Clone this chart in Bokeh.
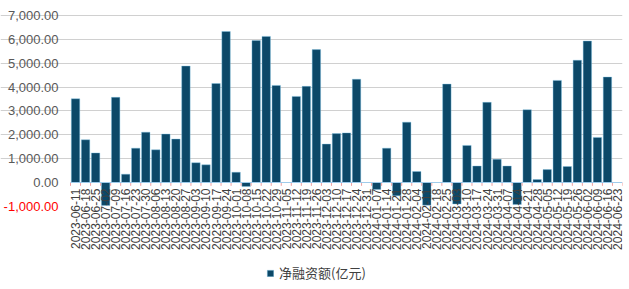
import pandas as pd
import math
from bokeh.plotting import figure
from bokeh.models import (ColumnDataSource, Range1d, FixedTicker,
                          Legend, LegendItem)
from bokeh.core.properties import value
from bokeh.embed import file_html
from bokeh.resources import INLINE

# ---- data ----
dates = [d.strftime("%Y-%m-%d") for d in pd.date_range("2023-06-11", "2024-06-23", freq="7D")]
net_financing = [
    3510, 1790, 1240, -960, 3570, 350, 1440, 2110, 1370, 2030,
    1820, 4880, 830, 740, 4150, 6330, 430, -170, 5950, 6125,
    4070, None, 3610, 4030, 5570, 1610, 2050, 2080, 4330, None,
    -290, 1440, -560, 2530, 460, -950, None, 4125, -900, 1555,
    690, 3360, 970, 690, -920, 3050, 125, 540, 4280, 670,
    5125, 5930, 1890, 4420, None,
]
series_name = "净融资额(亿元)"
y_ticks = [-1000, 0, 1000, 2000, 3000, 4000, 5000, 6000, 7000]

n = len(dates)
idx = list(range(n))
vals = [float("nan") if v is None else float(v) for v in net_financing]
src = ColumnDataSource(dict(i=idx, d=dates, v=vals, zero=[0.0] * n))

tick_src = ColumnDataSource(dict(
    y=y_ticks,
    x=[-0.5] * len(y_ticks),
    t=[f"{t:,.2f}" for t in y_ticks],
    c=["#ff0000" if t < 0 else "#595959" for t in y_ticks],
))

p = figure(width=629, height=289,
           x_range=Range1d(-0.5 - 70 / 10.036, n - 0.5),
           y_range=Range1d(-4317, 7629),
           x_axis_location=None, y_axis_location=None,
           output_backend="svg", toolbar_location=None,
           min_border_left=0, min_border_right=7,
           min_border_top=0, min_border_bottom=4)
p.outline_line_color = None
p.background_fill_color = "white"

# grid
p.xgrid.visible = False
p.ygrid.ticker = FixedTicker(ticks=[t for t in y_ticks if t > 0])
p.ygrid.bounds = (-0.5, n - 0.5)
p.ygrid.grid_line_color = "#d0d0d0"
p.ygrid.grid_line_width = 1

# y tick labels
p.text(x="x", y="y", text="t", source=tick_src, x_offset=-12,
       text_align="right", text_baseline="middle",
       text_color="c", text_font=value("Liberation Sans"),
       text_font_size="13px")

# bars
r = p.vbar(x="i", top="v", bottom=0, width=0.84, source=src,
           fill_color="#0c4868", line_color="#7fc6e8", line_width=0.4)

# zero axis line + small ticks between categories
bounds = [i - 0.5 for i in idx] + [n - 0.5]
p.segment(x0=bounds, y0=[0] * len(bounds), x1=bounds, y1=[-140] * len(bounds),
          line_color="#f0a0a0", line_width=1)
p.segment(x0=[-0.5], y0=[0], x1=[n - 0.5], y1=[0],
          line_color="#9fcbea", line_width=1.2)

# category labels, rotated
p.text(x="i", y="zero", text="d", source=src, angle=math.pi / 2,
       text_align="right", text_baseline="middle", y_offset=6,
       text_font=value("Liberation Sans"), text_font_size="12px",
       text_color="#404040")

# legend
legend = Legend(items=[LegendItem(label=series_name, renderers=[r])],
                location=(266, 3), orientation="horizontal",
                glyph_width=8, glyph_height=8, label_standoff=5,
                padding=0, margin=0, border_line_color=None,
                background_fill_alpha=0,
                label_text_font="Noto Sans CJK SC", label_text_font_size="13px",
                label_text_color="#404040")
p.add_layout(legend)

open("out.html", "w").write(file_html(p, INLINE))
